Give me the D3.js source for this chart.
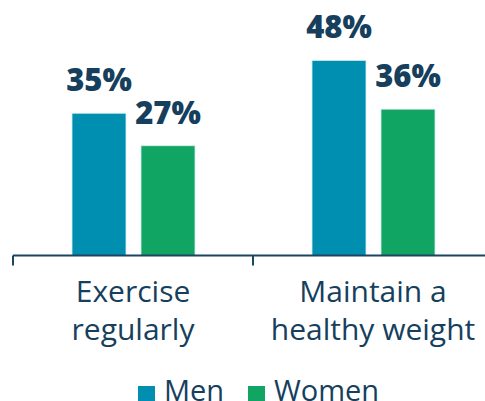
<!DOCTYPE html>
<html>
<head>
<meta charset="utf-8">
<script src="https://cdn.jsdelivr.net/npm/d3@7"></script>
<style>
  html, body { margin: 0; padding: 0; background: #fff; }
  svg { display: block; font-family: "Open Sans", sans-serif; }
</style>
</head>
<body>
<div id="chart"></div>
<script>
const categories = [["Exercise", "regularly"], ["Maintain a", "healthy weight"]];
const series = ["Men", "Women"];
const menValues = [35, 48];
const womenValues = [27, 36];

const colors = { Men: "#008fb1", Women: "#10a563" };
const navy = "#163f5e";

const width = 485, height = 401;
const baseY = 255.5;

const svg = d3.select("#chart")
  .append("svg")
  .attr("width", width)
  .attr("height", height);

const rows = categories.map((c, i) => ({
  key: c.join(" "),
  lines: c,
  values: [{ s: "Men", v: menValues[i] }, { s: "Women", v: womenValues[i] }]
}));

const x0 = d3.scaleBand()
  .domain(rows.map(d => d.key))
  .range([13, 493]);

const x1 = d3.scaleBand()
  .domain(series)
  .range([59, 182])
  .paddingInner(15 / 69);

const y = d3.scaleLinear()
  .domain([0, 50])
  .range([baseY, baseY - 50 * 4.065]);

const groups = svg.append("g")
  .selectAll("g")
  .data(rows)
  .enter().append("g")
  .attr("transform", d => `translate(${x0(d.key)},0)`);

groups.selectAll("rect")
  .data(d => d.values)
  .enter().append("rect")
  .attr("x", d => x1(d.s))
  .attr("y", d => y(d.v))
  .attr("width", x1.bandwidth())
  .attr("height", d => y(0) - y(d.v))
  .attr("fill", d => colors[d.s])
  .attr("stroke", "#d8eef2")
  .attr("stroke-width", 0.8);

groups.selectAll("text.val")
  .data(d => d.values)
  .enter().append("text")
  .attr("class", "val")
  .attr("x", d => x1(d.s) + x1.bandwidth() / 2)
  .attr("y", d => y(d.v) - 22)
  .attr("text-anchor", "middle")
  .attr("font-size", "31px")
  .attr("font-weight", "800")
  .attr("fill", navy)
  .text(d => d.v + "%");

// axis line with ticks at band boundaries
const axis = svg.append("g");
axis.append("line")
  .attr("x1", 13).attr("x2", width)
  .attr("y1", baseY).attr("y2", baseY)
  .attr("stroke", "#1b4562")
  .attr("stroke-width", 2);

axis.selectAll("line.tick")
  .data(rows)
  .enter().append("line")
  .attr("class", "tick")
  .attr("x1", d => x0(d.key)).attr("x2", d => x0(d.key))
  .attr("y1", baseY).attr("y2", baseY + 10)
  .attr("stroke", "#1b4562")
  .attr("stroke-width", 2);

const labels = axis.selectAll("text")
  .data(rows)
  .enter().append("text")
  .attr("text-anchor", "middle")
  .attr("font-size", "30px")
  .attr("fill", navy)
  .attr("transform", d => `translate(${x0(d.key) + x0.bandwidth() / 2},0)`);

labels.selectAll("tspan")
  .data(d => d.lines)
  .enter().append("tspan")
  .attr("x", 0)
  .attr("y", (d, i) => 302 + i * 38)
  .text(d => d);

// legend
const legendX = [138, 248];
const legend = svg.append("g")
  .selectAll("g")
  .data(series)
  .enter().append("g")
  .attr("transform", (d, i) => `translate(${legendX[i]},386)`);

legend.append("rect")
  .attr("width", 17)
  .attr("height", 17)
  .attr("fill", d => colors[d]);

legend.append("text")
  .attr("x", 26)
  .attr("y", 14.5)
  .attr("font-size", "29px")
  .attr("fill", navy)
  .text(d => d);
</script>
</body>
</html>
